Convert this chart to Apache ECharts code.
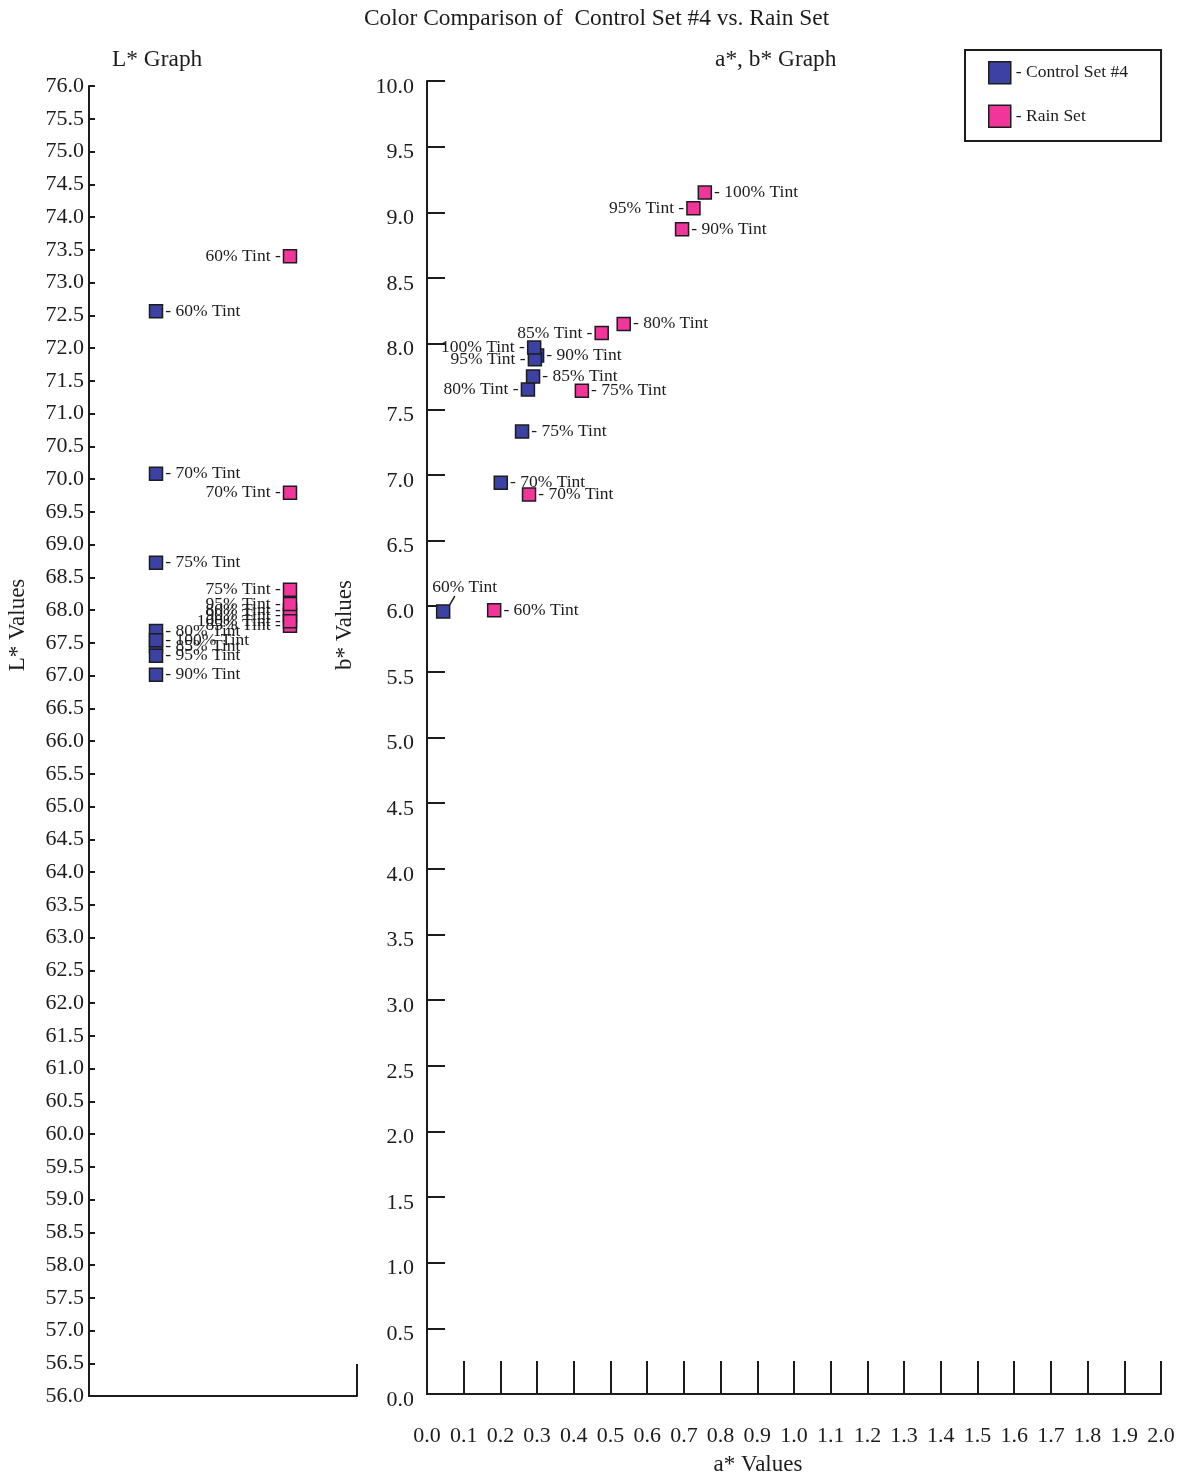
<!DOCTYPE html>
<html>
<head>
<meta charset="utf-8">
<title>Color Comparison of Control Set #4 vs. Rain Set</title>
<script src="https://cdn.jsdelivr.net/npm/echarts@6/dist/echarts.min.js"></script>
<style>
  html, body { margin: 0; padding: 0; background: #fff; }
  #chart { width: 1185px; height: 1480px; }
</style>
</head>
<body>
<div id="chart"></div>
<script>
// Tint levels, in the same order as every value array below
const tints = ['60% Tint', '70% Tint', '75% Tint', '80% Tint', '85% Tint', '90% Tint', '95% Tint', '100% Tint'];

// L* readings
const controlL = [72.56, 70.08, 68.72, 67.68, 67.45, 67.01, 67.30, 67.54];
const rainL    = [73.40, 69.79, 68.31, 68.00, 67.76, 67.92, 68.09, 67.83];

// a* and b* readings
const controlA = [0.044, 0.201, 0.259, 0.275, 0.289, 0.300, 0.294, 0.292];
const controlB = [5.96, 6.94, 7.33, 7.65, 7.75, 7.91, 7.88, 7.97];
const rainA    = [0.183, 0.278, 0.422, 0.536, 0.476, 0.695, 0.726, 0.757];
const rainB    = [5.97, 6.85, 7.64, 8.15, 8.08, 8.87, 9.03, 9.15];

// column of each set on the L* strip
const controlColumn = 0.5;
const rainColumn = 1.5;

const SERIF = 'Liberation Serif';
const INK = '#1c1c1c';
const BLUE = '#3b42a3';
const PINK = '#f2359b';

// tints whose a*,b* labels sit on the left of the marker / above it
const abLeftControl = ['80% Tint', '95% Tint', '100% Tint'];
const abLeftRain = ['85% Tint', '95% Tint'];
const abTopControl = ['60% Tint'];

const labelFont = { fontFamily: SERIF, fontSize: 17.5, color: INK };

function rightLabel() {
  return Object.assign({ show: true, position: 'right', distance: 2,
    formatter: p => '- ' + p.name }, labelFont);
}
function leftLabel() {
  return Object.assign({ show: true, position: 'left', distance: 2,
    formatter: p => p.name + ' -' }, labelFont);
}

function lPoints(column, values) {
  return values.map((v, i) => ({ name: tints[i], value: [column, v] }));
}

function abPoints(as, bs, leftNames, topNames) {
  return as.map((a, i) => {
    const name = tints[i];
    const pt = { name: name, value: [a, bs[i]] };
    if (topNames.indexOf(name) >= 0) {
      // an empty lead-in fragment widens the label box so the leader meets it near its left end
      pt.label = Object.assign({ show: true, position: 'top', distance: 4,
        formatter: p => '{pad| }{t|' + p.name + '}',
        rich: { pad: { width: 35 }, t: labelFont } }, labelFont);
      pt.labelLine = { show: true, lineStyle: { color: INK, width: 1.5 } };
    } else if (leftNames.indexOf(name) >= 0) {
      pt.label = leftLabel();
    }
    return pt;
  });
}

// lift the raised labels a little so a short leader line shows
function abLayout(topNames) {
  return params => (topNames.indexOf(tints[params.dataIndex]) >= 0 ? { dx: 4, dy: -4 } : {});
}

const axisLine = { show: true, lineStyle: { color: INK, width: 2 } };
const axisLabelStyle = { fontFamily: SERIF, fontSize: 22, color: INK };
const headStyle = { fontFamily: SERIF, fontSize: 23.4, fontWeight: 'normal', color: INK };

const chart = echarts.init(document.getElementById('chart'), null, { renderer: 'canvas' });

chart.setOption({
  backgroundColor: '#fff',
  animation: false,
  title: [
    { text: 'Color Comparison of  Control Set #4 vs. Rain Set', left: 364, top: 7, padding: 0, textStyle: headStyle },
    { text: 'L* Graph', left: 112, top: 48, padding: 0, textStyle: headStyle },
    { text: 'a*, b* Graph', left: 715, top: 48, padding: 0, textStyle: headStyle }
  ],
  graphic: [
    { type: 'text', x: 18, y: 625, rotation: Math.PI / 2,
      style: { text: 'L* Values', align: 'center', verticalAlign: 'middle',
        font: '23px "' + SERIF + '"', fill: INK } },
    { type: 'text', x: 345, y: 625, rotation: Math.PI / 2,
      style: { text: 'b* Values', align: 'center', verticalAlign: 'middle',
        font: '23px "' + SERIF + '"', fill: INK } },
    { type: 'text', x: 758, y: 1465,
      style: { text: 'a* Values', align: 'center', verticalAlign: 'middle',
        font: '23px "' + SERIF + '"', fill: INK } }
  ],
  legend: {
    orient: 'vertical',
    left: 965, top: 50,
    padding: [11, 33, 13, 23],
    itemGap: 20,
    itemWidth: 22, itemHeight: 22,
    icon: 'rect',
    borderColor: INK, borderWidth: 2,
    data: ['Control Set #4', 'Rain Set'],
    formatter: name => '- ' + name,
    textStyle: { fontFamily: SERIF, fontSize: 17.5, color: INK },
    itemStyle: { borderColor: INK, borderWidth: 1.5 }
  },
  grid: [
    { left: 89, top: 86, width: 268, height: 1310 },
    { left: 427, top: 81, width: 734, height: 1313 }
  ],
  xAxis: [
    { gridIndex: 0, type: 'value', min: 0, max: 2, interval: 2,
      axisLine: axisLine,
      axisTick: { show: true, inside: true, length: 32, lineStyle: { color: INK, width: 2 } },
      axisLabel: { show: false }, splitLine: { show: false } },
    { gridIndex: 1, type: 'value', min: 0, max: 2, interval: 0.1,
      axisLine: axisLine,
      axisTick: { show: true, inside: true, length: 33, lineStyle: { color: INK, width: 2 } },
      axisLabel: Object.assign({ margin: 31, formatter: v => v.toFixed(1) }, axisLabelStyle),
      splitLine: { show: false } }
  ],
  yAxis: [
    { gridIndex: 0, type: 'value', min: 56, max: 76, interval: 0.5,
      axisLine: axisLine,
      axisTick: { show: true, inside: true, length: 6, lineStyle: { color: INK, width: 2 } },
      axisLabel: Object.assign({ margin: 5, formatter: v => v.toFixed(1) }, axisLabelStyle),
      splitLine: { show: false } },
    { gridIndex: 1, type: 'value', min: 0, max: 10, interval: 0.5,
      axisLine: axisLine,
      axisTick: { show: true, inside: true, length: 18, lineStyle: { color: INK, width: 2 } },
      axisLabel: Object.assign({ margin: 13, verticalAlign: 'top', lineHeight: 12,
        formatter: v => v.toFixed(1) }, axisLabelStyle),
      splitLine: { show: false } }
  ],
  series: [
    { name: 'Control Set #4', type: 'scatter', xAxisIndex: 0, yAxisIndex: 0,
      symbol: 'rect', symbolSize: 13,
      itemStyle: { color: BLUE, borderColor: INK, borderWidth: 1.5, opacity: 1 },
      label: rightLabel(),
      data: lPoints(controlColumn, controlL) },
    { name: 'Rain Set', type: 'scatter', xAxisIndex: 0, yAxisIndex: 0,
      symbol: 'rect', symbolSize: 13,
      itemStyle: { color: PINK, borderColor: INK, borderWidth: 1.5, opacity: 1 },
      label: leftLabel(),
      data: lPoints(rainColumn, rainL) },
    { name: 'Control Set #4', type: 'scatter', xAxisIndex: 1, yAxisIndex: 1,
      symbol: 'rect', symbolSize: 13,
      itemStyle: { color: BLUE, borderColor: INK, borderWidth: 1.5, opacity: 1 },
      label: rightLabel(),
      labelLayout: abLayout(abTopControl),
      data: abPoints(controlA, controlB, abLeftControl, abTopControl) },
    { name: 'Rain Set', type: 'scatter', xAxisIndex: 1, yAxisIndex: 1,
      symbol: 'rect', symbolSize: 13,
      itemStyle: { color: PINK, borderColor: INK, borderWidth: 1.5, opacity: 1 },
      label: rightLabel(),
      data: abPoints(rainA, rainB, abLeftRain, []) }
  ]
});
</script>
</body>
</html>
